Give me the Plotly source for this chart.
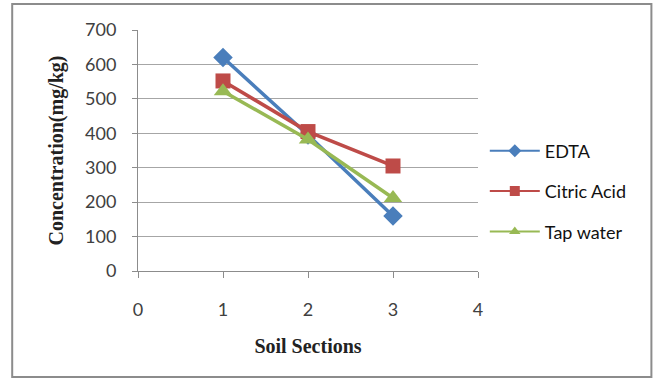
import plotly.graph_objects as go

# Soil sections and measured concentrations (mg/kg)
sections = [1, 2, 3]
edta = [620, 395, 160]
citric_acid = [552, 405, 305]
tap_water = [522, 382, 212]

x_ticks = [0, 1, 2, 3, 4]
y_ticks = [0, 100, 200, 300, 400, 500, 600, 700]

series = [
    ("EDTA", edta, "#4a7ebb", "diamond", 15, 10),
    ("Citric Acid", citric_acid, "#be4b48", "square", 15, 10),
    ("Tap water", tap_water, "#98b954", "triangle-up", 16, 10),
]

fig = go.Figure()
for name, vals, color, sym, size, legend_size in series:
    # data line with full-size markers
    fig.add_trace(go.Scatter(
        x=sections, y=vals, name=name, mode="lines+markers",
        legendgroup=name, showlegend=False,
        line=dict(color=color, width=3.5),
        marker=dict(symbol=sym, size=size, color=color),
    ))
    # legend key drawn with a thinner line and smaller marker
    fig.add_trace(go.Scatter(
        x=[None], y=[None], name=name, mode="lines+markers",
        legendgroup=name, showlegend=True,
        line=dict(color=color, width=2),
        marker=dict(symbol=sym, size=legend_size, color=color),
    ))

fig.update_layout(
    width=660, height=380,
    margin=dict(l=138, r=182, t=30, b=109),
    paper_bgcolor="white", plot_bgcolor="white",
    showlegend=True,
    legend=dict(
        x=1.02, y=0.33, xanchor="left", yanchor="middle",
        font=dict(family="Lato", size=18, color="#111111"),
        itemwidth=50, traceorder="grouped", tracegroupgap=14,
    ),
    shapes=[dict(
        type="rect", xref="paper", yref="paper",
        x0=-0.37, x1=1.51, y0=-0.44, y1=1.108,
        line=dict(color="#8c8c8c", width=2),
    )],
)

fig.update_xaxes(
    range=[0, 4], tickvals=x_ticks, showgrid=False,
    showline=True, linecolor="#8c8c8c", linewidth=1,
    ticks="outside", ticklen=6, tickcolor="#8c8c8c",
    tickfont=dict(family="Lato", size=18, color="#404040"),
    ticklabelstandoff=16,
    title=dict(text="<b>Soil Sections</b>",
               font=dict(family="Liberation Serif", size=20, color="#222222"),
               standoff=20),
    zeroline=False,
)
fig.update_yaxes(
    range=[0, 700], tickvals=y_ticks, showgrid=True, gridcolor="#a6a6a6",
    gridwidth=1, showline=True, linecolor="#8c8c8c", linewidth=1,
    ticks="outside", ticklen=5, tickcolor="#8c8c8c",
    tickfont=dict(family="Lato", size=18, color="#404040"),
    ticklabelstandoff=12,
    title=dict(text="<b>Concentration(mg/kg)</b>",
               font=dict(family="Liberation Serif", size=20, color="#222222"),
               standoff=16),
    zeroline=False,
)

fig.write_html("out.html")
